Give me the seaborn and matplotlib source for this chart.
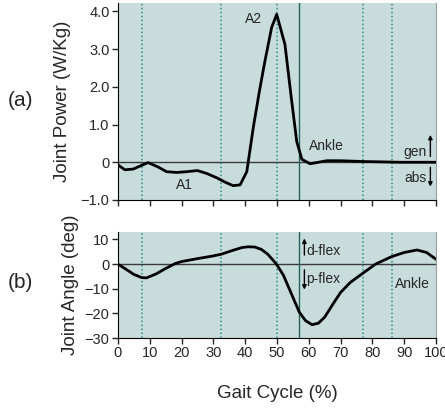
import numpy as np
import pandas as pd
import matplotlib
matplotlib.use("Agg")
import matplotlib.pyplot as plt
import seaborn as sns

# ankle power (W/Kg) over gait cycle
power_x = [0, 2.2, 4.8, 7.5, 9.5, 12.5, 15.3, 18.5, 21.6, 25, 28, 31, 34, 36.2, 38.4, 40.5, 42.6, 44.5,
           46.2, 48.3, 49.9, 52.5, 54.5, 56.2, 57.8, 60.4, 63, 65.6, 70, 77, 83, 88.7, 95, 100]
power_y = [-0.07, -0.2, -0.18, -0.08, -0.01, -0.12, -0.25, -0.27, -0.25, -0.22, -0.3, -0.41, -0.54, -0.62,
           -0.6, -0.25, 0.95, 1.9, 2.68, 3.57, 3.92, 3.12, 1.7, 0.55, 0.08, -0.04, 0.0, 0.04, 0.04, 0.02, 0.01, 0.0, 0.0, 0.0]

# ankle angle (deg) over gait cycle
angle_x = [0, 3, 5, 7.5, 9, 12, 15, 18, 20, 25, 30, 32.5, 36, 39, 41, 43, 45, 47, 49, 50, 52, 54, 56, 57,
           59, 61, 63, 65, 67.7, 70, 73, 77, 81, 86, 90, 94, 97, 100]
angle_y = [0, -2.5, -4.2, -5.5, -5.6, -4, -1.8, 0.2, 1, 2.2, 3.3, 4, 5.5, 6.7, 7, 6.9, 6.0, 4.1, 1.2, -0.4,
           -4.5, -10.5, -16.5, -19.5, -23, -24.6, -24, -21.5, -16, -11.5, -7.5, -3.7, 0, 3, 4.7, 5.7, 4.7, 1.9]

dotted_events = [7.5, 32.5, 50, 77, 86]
solid_event = 57
xticks = list(range(0, 101, 10))

sns.set_style("ticks")
plt.rcParams['font.family'] = ['Liberation Sans', 'DejaVu Sans']

bg = "#c8dcdb"
dot_col = "#2b8a8c"
solid_col = "#23625f"

fig = plt.figure(figsize=(4.45, 4.12), dpi=100)
ax1 = fig.add_axes([0.265, 0.5146, 0.715, 0.478])
ax2 = fig.add_axes([0.265, 0.1796, 0.715, 0.2573])

df_p = pd.DataFrame({"x": power_x, "y": power_y})
df_a = pd.DataFrame({"x": angle_x, "y": angle_y})

for ax in (ax1, ax2):
    ax.set_facecolor(bg)
    ax.axhline(0, color="#3a3a3a", lw=1.0, zorder=1)
    for e in dotted_events:
        ax.axvline(e, color=dot_col, lw=1.1, ls=(0, (1, 1.6)), zorder=1)
    ax.axvline(solid_event, color=solid_col, lw=1.0, zorder=1)
    ax.set_xlim(0, 100)
    ax.set_xticks(xticks)
    ax.spines['top'].set_visible(False)
    ax.spines['right'].set_color("#9a9a9a")
    ax.spines['left'].set_color("black")
    ax.spines['bottom'].set_color("black")
    ax.tick_params(direction='out', length=4, width=1, labelsize=10.5, pad=2)

sns.lineplot(data=df_p, x="x", y="y", ax=ax1, color="black", lw=2.0, zorder=3)
sns.lineplot(data=df_a, x="x", y="y", ax=ax2, color="black", lw=2.0, zorder=3)

ax1.set_ylim(-1.0, 4.22)
ax1.set_yticks([-1, 0, 1, 2, 3, 4])
ax1.set_yticklabels(["\u22121.0", "0", "1.0", "2.0", "3.0", "4.0"])
ax1.tick_params(axis='x', labelbottom=False)
ax1.set_xlabel("")
ax1.set_ylabel("Joint Power (W/Kg)", fontsize=13.5, labelpad=7)

ax2.set_ylim(-30, 13)
ax2.set_yticks([-30, -20, -10, 0, 10])
ax2.set_yticklabels(["\u221230", "\u221220", "\u221210", "0", "10"])
ax2.set_xlabel("Gait Cycle (%)", fontsize=13.5, labelpad=18)
ax2.set_ylabel("Joint Angle (deg)", fontsize=13.5, labelpad=4)

# annotations, top panel
ax1.text(21, -0.6, "A1", fontsize=10, ha="center", va="center")
ax1.text(42.5, 3.8, "A2", fontsize=10, ha="center", va="center")
ax1.text(65.6, 0.42, "Ankle", fontsize=10, ha="center", va="center")
ax1.text(97, 0.27, "gen", fontsize=10, ha="right", va="center")
ax1.text(97, -0.42, "abs", fontsize=10, ha="right", va="center")
ax1.annotate("", xy=(98.2, 0.8), xytext=(98.2, 0.08),
             arrowprops=dict(arrowstyle="-|>", color="black", lw=1, mutation_scale=6))
ax1.annotate("", xy=(98.2, -0.72), xytext=(98.2, -0.06),
             arrowprops=dict(arrowstyle="-|>", color="black", lw=1, mutation_scale=6))

# annotations, bottom panel
ax2.text(59.3, 5.2, "d-flex", fontsize=10, ha="left", va="center")
ax2.text(59.3, -6.2, "p-flex", fontsize=10, ha="left", va="center")
ax2.annotate("", xy=(58.6, 11.5), xytext=(58.6, 2.5),
             arrowprops=dict(arrowstyle="-|>", color="black", lw=1, mutation_scale=6))
ax2.annotate("", xy=(58.6, -11.5), xytext=(58.6, -1.2),
             arrowprops=dict(arrowstyle="-|>", color="black", lw=1, mutation_scale=6))
ax2.text(87, -8, "Ankle", fontsize=10, ha="left", va="center")

fig.text(0.045, 0.757, "(a)", fontsize=15, ha="center", va="center")
fig.text(0.045, 0.315, "(b)", fontsize=15, ha="center", va="center")

fig.savefig("out.png", dpi=100)
